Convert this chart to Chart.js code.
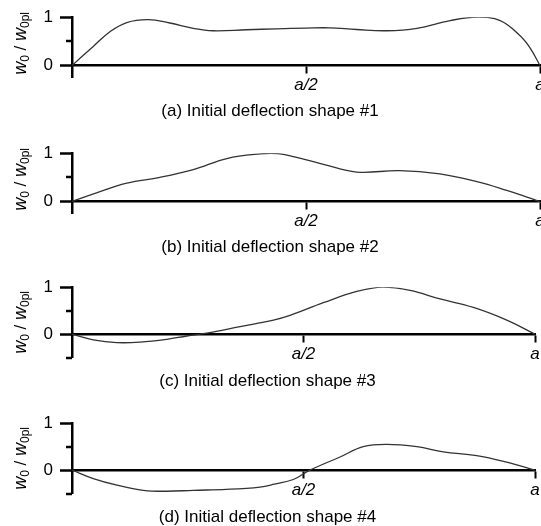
<!DOCTYPE html>
<html>
<head>
<meta charset="utf-8">
<script src="https://cdn.jsdelivr.net/npm/chart.js@4/dist/chart.umd.min.js"></script>
<style>
  body { margin: 0; background: #fff; }
  #wrap { position: relative; width: 541px; height: 526px; overflow: hidden; }
  canvas { position: absolute; left: 0; }
</style>
</head>
<body>
<div id="wrap">
  <canvas id="c1" width="541" height="122" style="top:0px"></canvas>
  <canvas id="c2" width="541" height="122" style="top:136px"></canvas>
  <canvas id="c3" width="541" height="122" style="top:270px"></canvas>
  <canvas id="c4" width="541" height="122" style="top:406px"></canvas>
</div>
<script>
// positions along the plate, as a fraction of a
const shape1X = [0, 0.046, 0.081, 0.117, 0.163, 0.209, 0.259, 0.301, 0.373, 0.437, 0.5, 0.55, 0.608, 0.672, 0.737, 0.808, 0.866, 0.915, 0.957, 0.979, 1];
const shape1Y = [0, 0.4, 0.7, 0.89, 0.95, 0.88, 0.77, 0.72, 0.74, 0.76, 0.775, 0.78, 0.745, 0.72, 0.77, 0.93, 1.0, 0.93, 0.62, 0.36, 0];

const shape2X = [0, 0.046, 0.117, 0.188, 0.259, 0.331, 0.402, 0.44, 0.473, 0.537, 0.608, 0.7, 0.786, 0.865, 0.929, 0.979, 1];
const shape2Y = [0, 0.16, 0.38, 0.5, 0.66, 0.89, 0.985, 0.99, 0.93, 0.77, 0.61, 0.64, 0.57, 0.41, 0.23, 0.07, 0];

const shape3X = [0, 0.046, 0.097, 0.147, 0.205, 0.248, 0.291, 0.363, 0.435, 0.471, 0.543, 0.615, 0.672, 0.73, 0.795, 0.867, 0.939, 1];
const shape3Y = [0, -0.12, -0.18, -0.17, -0.11, -0.04, 0.02, 0.16, 0.3, 0.4, 0.67, 0.91, 1.0, 0.93, 0.75, 0.57, 0.3, 0];

const shape4X = [0, 0.046, 0.097, 0.154, 0.205, 0.262, 0.334, 0.406, 0.437, 0.478, 0.514, 0.579, 0.629, 0.68, 0.745, 0.802, 0.874, 0.939, 1];
const shape4Y = [0, -0.18, -0.32, -0.43, -0.45, -0.43, -0.41, -0.36, -0.3, -0.2, 0, 0.28, 0.5, 0.55, 0.5, 0.39, 0.31, 0.17, 0];

const xTickValues = [0.5, 1];
const xTickLabels = ['a/2', 'a'];
const yTickValues = [0, 1];
const captions = [
  '(a) Initial deflection shape #1',
  '(b) Initial deflection shape #2',
  '(c) Initial deflection shape #3',
  '(d) Initial deflection shape #4'
];

Chart.defaults.font.family = "'Liberation Sans', Arial, sans-serif";
Chart.defaults.color = '#000';

// short ticks and the rotated w0 / w0pl label
const axisDecor = {
  id: 'axisDecor',
  afterDraw(chart, args, opts) {
    const { ctx, chartArea, scales } = chart;
    const y = scales.y;
    const fam = Chart.defaults.font.family;
    ctx.save();
    ctx.strokeStyle = '#000';
    ctx.lineWidth = 2.5;
    opts.minor.forEach(v => {
      const py = Math.round(y.getPixelForValue(v));
      ctx.beginPath();
      ctx.moveTo(chartArea.left, py);
      ctx.lineTo(chartArea.left - 6, py);
      ctx.stroke();
    });

    const parts = [
      { t: 'w', f: 'italic 18px ' + fam, dy: 0 },
      { t: '0', f: '12px ' + fam, dy: 5 },
      { t: ' / ', f: '17px ' + fam, dy: 0 },
      { t: 'w', f: 'italic 18px ' + fam, dy: 0 },
      { t: '0pl', f: '12px ' + fam, dy: 5 }
    ];
    let total = 0;
    parts.forEach(p => { ctx.font = p.f; p.w = ctx.measureText(p.t).width; total += p.w; });
    ctx.translate(21, (chartArea.top + chartArea.bottom) / 2 + opts.shift);
    ctx.rotate(-Math.PI / 2);
    ctx.fillStyle = '#000';
    ctx.textBaseline = 'middle';
    let x = -total / 2;
    parts.forEach(p => {
      ctx.font = p.f;
      ctx.fillText(p.t, x, p.dy);
      x += p.w;
    });
    ctx.restore();
  }
};

function makePanel(id, xs, ys, yMin, minor, rightPad, titleTop, caption, shift) {
  const points = xs.map((x, i) => ({ x: x, y: ys[i] }));
  return new Chart(document.getElementById(id), {
    type: 'line',
    data: {
      datasets: [{
        data: points,
        borderColor: '#333',
        borderWidth: 1.3,
        pointRadius: 0,
        fill: false,
        tension: 0.4
      }]
    },
    options: {
      responsive: false,
      animation: false,
      layout: { padding: { top: 17, left: 0, right: rightPad, bottom: 0 } },
      plugins: {
        legend: { display: false },
        tooltip: { enabled: false },
        title: {
          display: true,
          position: 'bottom',
          text: caption,
          font: { size: 17, weight: 'normal' },
          padding: { top: titleTop, bottom: 0 }
        },
        axisDecor: { minor: minor, shift: shift }
      },
      scales: {
        x: {
          type: 'linear',
          min: 0,
          max: 1,
          position: { y: 0 },
          afterBuildTicks: s => { s.ticks = xTickValues.map(v => ({ value: v })); },
          afterFit: s => { s.paddingLeft = 0; s.paddingRight = 0; },
          ticks: {
            font: { size: 17, style: 'italic' },
            padding: 3,
            maxRotation: 0,
            callback: v => xTickLabels[xTickValues.indexOf(v)]
          },
          grid: { drawOnChartArea: false, tickLength: 7, tickWidth: 2, tickColor: '#000' },
          border: { display: true, color: '#000', width: 2.5 }
        },
        y: {
          position: 'left',
          min: yMin,
          max: 1,
          afterBuildTicks: s => { s.ticks = yTickValues.map(v => ({ value: v })); },
          afterFit: s => { s.width = 72; },
          ticks: {
            font: { size: 17 },
            padding: 7,
            callback: v => String(v)
          },
          grid: { drawOnChartArea: false, tickLength: 12, tickWidth: 2.5, tickColor: '#000' },
          border: { display: true, color: '#000', width: 2.5 }
        }
      }
    },
    plugins: [axisDecor]
  });
}

makePanel('c1', shape1X, shape1Y, -0.25, [0.5], 1, 24, captions[0], -4);
makePanel('c2', shape2X, shape2Y, -0.25, [0.5], 1, 24, captions[1], -4);
makePanel('c3', shape3X, shape3Y, -0.5, [0.5, -0.5], 6, 14, captions[2], 0);
makePanel('c4', shape4X, shape4Y, -0.5, [0.5, -0.5], 6, 14, captions[3], 0);
</script>
</body>
</html>
